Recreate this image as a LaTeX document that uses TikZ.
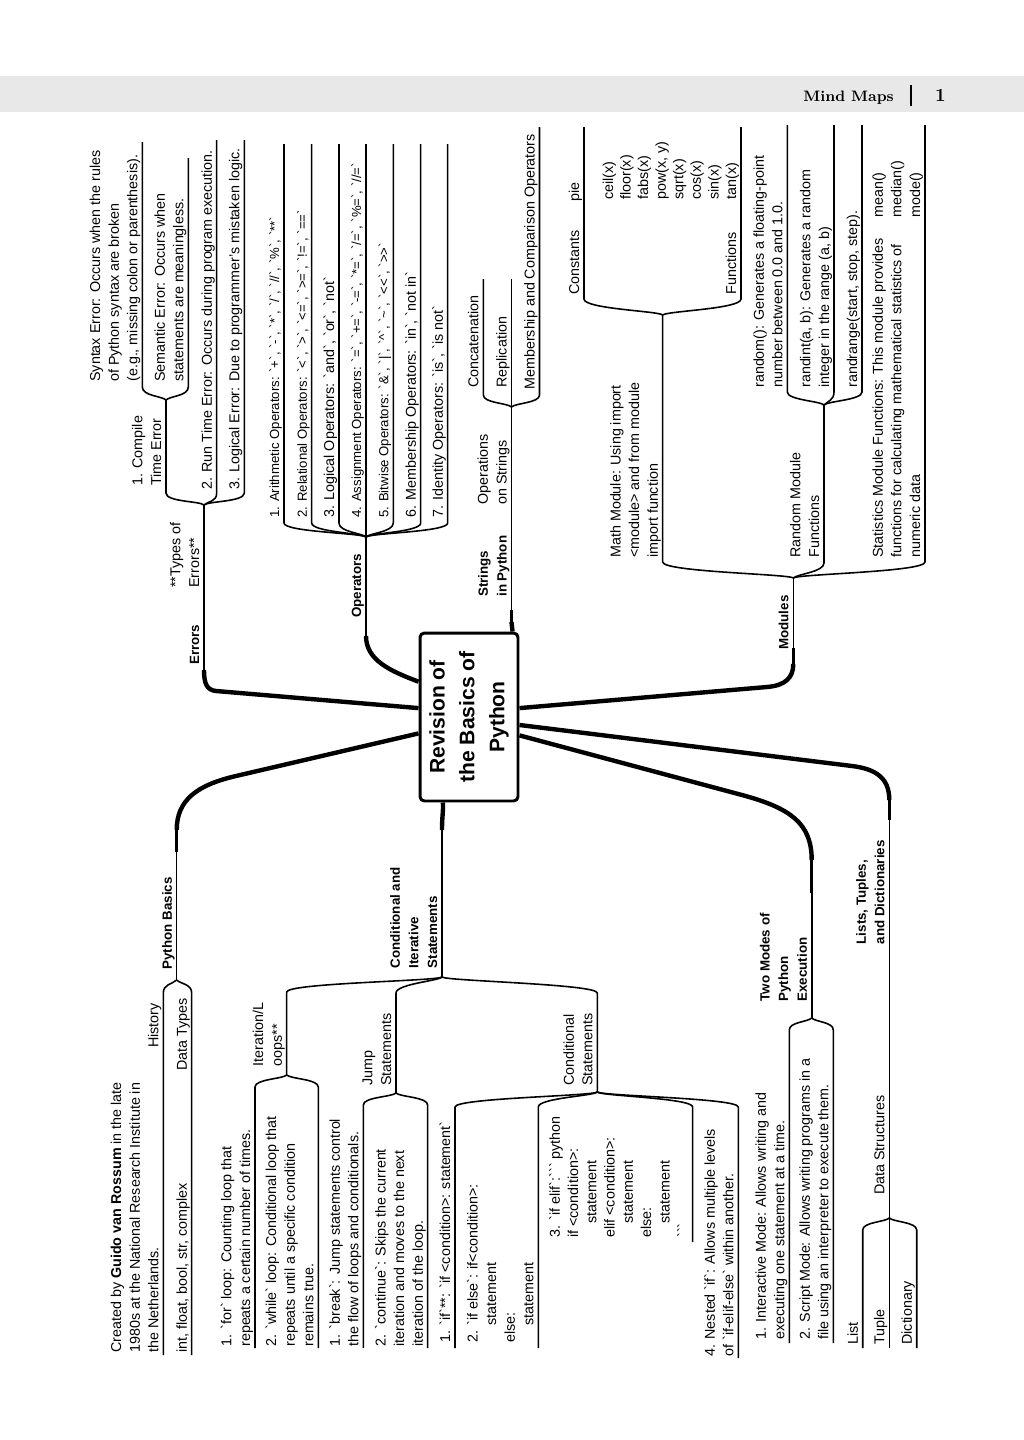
\documentclass[tikz,border=0pt]{standalone}
\usepackage{fontspec}
\newfontfamily\mapfont{Liberation Sans}[Ligatures=TeXOff]
\newcommand{\leaffont}{\mapfont\fontsize{8.15}{10.6}\selectfont}
\newcommand{\opfont}{\mapfont\fontsize{7.5}{10.6}\selectfont}
\newcommand{\topicfont}{\mapfont\bfseries\fontsize{7.6}{10.6}\selectfont}
\newcommand{\rootfont}{\mapfont\bfseries\fontsize{12}{17}\selectfont}
\tikzset {
    branch/.style={line width=0.9pt},
    taper/.style={line width=1.5pt},
    trunk/.style={line width=2.5pt},
    leaf/.style={rotate=90, font=\leaffont, align=left, inner xsep=0pt, inner ysep=0.6pt, text depth=2pt},
    topic/.style={leaf, font=\topicfont},
    rside/.style={anchor=south west},
    lside/.style={anchor=south east},
    mainbox/.style={draw, rotate=90, line width=1.7pt, rounded corners=2.5pt, minimum width=3.36cm, minimum height=1.96cm, align=center, font=\rootfont}
}
\begin{document}
\begin{tikzpicture}[x=0.02cm, y=-0.02cm]
\useasboundingbox (0,0) rectangle (1024,1440);
\fill[black!9] (0,76) rectangle (1024,112);
\node[anchor=base east, font=\bfseries\fontsize{8.6}{10}\selectfont] (hdr) at (900,101) {Mind Maps};
\coordinate (bar-t) at (910.7,85); \coordinate (bar-b) at (910.7,106);
\draw[line width=1.2pt] (bar-t) -- (bar-b);
\node[anchor=base west, font=\bfseries\fontsize{10.5}{12}\selectfont] (pgno) at (929,101) {1};

\node[mainbox] (root) at (469,717) {Revision of\\the Basics of\\Python};

\coordinate (err-k) at (204,670);
\coordinate (te-f) at (204,505);
\draw[trunk] (root.80) -- (216,691) .. controls (207,690) and (204,684) .. (err-k);
\draw[taper] (err-k) -- (204,652);
\draw[branch] (err-k) -- (te-f);
\node[topic, rside] (errors) at (204,665) {Errors};
\node[leaf, rside] (typeserr) at (204,588) {**Types of\\Errors**};
\coordinate (cmp-s) at (166,493); \coordinate (cmp-f) at (166,400);
\draw[branch] (te-f) .. controls +(-4,-4) and +(0,9) .. (cmp-s) -- (cmp-f);
\node[leaf, rside] (compile) at (166,486) {1. Compile\\Time Error};
\coordinate (syn-s) at (142.3,387); \coordinate (syn-e) at (142.3,142);
\draw[branch] (cmp-f) .. controls +(-4,-4) and +(0,9) .. (syn-s) -- (syn-e);
\node[leaf, rside] (syntax) at (142.3,382) {Syntax Error: Occurs when the rules\\of Python syntax are broken\\(e.g., missing colon or parenthesis).};
\coordinate (sem-s) at (188.3,387); \coordinate (sem-e) at (188.3,158);
\draw[branch] (cmp-f) .. controls +(4,-4) and +(0,9) .. (sem-s) -- (sem-e);
\node[leaf, rside] (semantic) at (188.3,382) {Semantic Error: Occurs when\\statements are meaningless.};
\coordinate (run-s) at (216.7,493); \coordinate (run-e) at (216.7,140);
\draw[branch] (te-f) .. controls +(4,-4) and +(0,9) .. (run-s) -- (run-e);
\node[leaf, rside] (runtime) at (216.7,490) {2. Run Time Error: Occurs during program execution.};
\coordinate (lgc-s) at (244.3,493); \coordinate (lgc-e) at (244.3,140);
\draw[branch] (te-f) .. controls +(4,-4) and +(0,9) .. (lgc-s) -- (lgc-e);
\node[leaf, rside] (logical) at (244.3,490) {3. Logical Error: Due to programmer’s mistaken logic.};

\coordinate (op-k) at (366,636);
\coordinate (op-f) at (366,537);
\draw[trunk] (root.55) .. controls (390,671) and (366,660) .. (op-k);
\draw[taper] (op-k) -- (366,620);
\draw[branch] (op-k) -- (op-f);
\node[topic, rside] (operators) at (366,618) {Operators};
\coordinate (ari-s) at (284,523); \coordinate (ari-e) at (284,144);
\draw[branch] (op-f) .. controls +(-4,-4) and +(0,9) .. (ari-s) -- (ari-e);
\node[leaf, rside, font=\opfont] (arith) at (284,518) {1. Arithmetic Operators: `+`, `-`, `*`, `/`, `//`, `\%`, `**`};
\coordinate (rel-s) at (311.7,523); \coordinate (rel-e) at (311.7,144);
\draw[branch] (op-f) .. controls +(-4,-4) and +(0,9) .. (rel-s) -- (rel-e);
\node[leaf, rside, font=\opfont] (relat) at (311.7,518) {2. Relational Operators: `<`, `>`, `<=`, `>=`, `!=`, `==`};
\coordinate (log-s) at (339,523); \coordinate (log-e) at (339,144);
\draw[branch] (op-f) .. controls +(-4,-4) and +(0,9) .. (log-s) -- (log-e);
\node[leaf, rside] (logic) at (339,518) {3. Logical Operators: `and`, `or`, `not`};
\coordinate (asg-e) at (366,144);
\draw[branch] (op-f) -- (asg-e);
\node[leaf, rside, font=\opfont] (assign) at (366,518) {4. Assignment Operators: `=`, `+=`, `-=`, `*=`, `/=`, `\%=`, `//=`};
\coordinate (bit-s) at (393.3,523); \coordinate (bit-e) at (393.3,144);
\draw[branch] (op-f) .. controls +(4,-4) and +(0,9) .. (bit-s) -- (bit-e);
\node[leaf, rside, font=\opfont] (bitwise) at (393.3,518) {5. Bitwise Operators: `\&`, `|`, `\textasciicircum`, `\textasciitilde`, `<<`, `>>`};
\coordinate (mem-s) at (420.7,523); \coordinate (mem-e) at (420.7,144);
\draw[branch] (op-f) .. controls +(4,-4) and +(0,9) .. (mem-s) -- (mem-e);
\node[leaf, rside] (member) at (420.7,518) {6. Membership Operators: `in`, `not in`};
\coordinate (ide-s) at (447.7,523); \coordinate (ide-e) at (447.7,144);
\draw[branch] (op-f) .. controls +(4,-4) and +(0,9) .. (ide-s) -- (ide-e);
\node[leaf, rside] (ident) at (447.7,518) {7. Identity Operators: `is`, `is not`};

\coordinate (str-k) at (511.5,622);
\coordinate (st-f) at (511.5,407);
\draw[trunk] (root.-27) -- (str-k);
\draw[taper] (str-k) -- (511.5,610);
\draw[branch] (str-k) -- (st-f);
\node[topic, rside] (strings) at (511.5,597) {Strings\\in Python};
\node[leaf, rside] (opstr) at (511.5,505) {Operations\\on Strings};
\coordinate (cat-s) at (483.3,395); \coordinate (cat-e) at (483.3,279);
\draw[branch] (st-f) .. controls +(-4,-4) and +(0,8) .. (cat-s) -- (cat-e);
\node[leaf, rside] (concat) at (483.3,388) {Concatenation};
\coordinate (rep-e) at (511.5,279);
\draw[branch] (st-f) -- (rep-e);
\node[leaf, rside] (replic) at (511.5,388) {Replication};
\coordinate (mcm-s) at (539.5,395); \coordinate (mcm-e) at (539.5,127);
\draw[branch] (st-f) .. controls +(4,-4) and +(0,8) .. (mcm-s) -- (mcm-e);
\node[leaf, rside] (memcomp) at (539.5,390) {Membership and Comparison Operators};

\coordinate (mod-k) at (793.3,664);
\coordinate (mod-f) at (793.3,578);
\draw[trunk] (root.-80) -- (767,687) .. controls (785,685.5) and (793.3,678) .. (mod-k);
\draw[taper] (mod-k) -- (793.3,648);
\draw[branch] (mod-k) -- (mod-f);
\node[topic, rside] (modules) at (793.3,650) {Modules};
\coordinate (mth-s) at (662.7,562); \coordinate (mth-f) at (662.7,315);
\draw[branch] (mod-f) .. controls +(-4,-4) and +(0,10) .. (mth-s) -- (mth-f);
\node[leaf, rside] (mathmod) at (662.7,558) {Math Module: Using import\\<module> and from module\\import function};
\coordinate (cst-s) at (584,299); \coordinate (cst-e) at (584,127);
\draw[branch] (mth-f) .. controls +(-4,-4) and +(0,10) .. (cst-s) -- (cst-e);
\node[leaf, rside] (consts) at (584,295) {Constants};
\node[leaf, rside] (pie) at (584,202) {pie};
\coordinate (fnc-s) at (741,299); \coordinate (fnc-e) at (741,127);
\draw[branch] (mth-f) .. controls +(4,-4) and +(0,10) .. (fnc-s) -- (fnc-e);
\node[leaf, rside] (funcs) at (741,295) {Functions};
\node[leaf, rside, font=\mapfont\fontsize{8.15}{10}\selectfont] (funclist) at (741,200) {ceil(x)\\floor(x)\\fabs(x)\\pow(x, y)\\sqrt(x)\\cos(x)\\sin(x)\\tan(x)};
\coordinate (rnd-s) at (824,563); \coordinate (rnd-f) at (824,405);
\draw[branch] (mod-f) .. controls +(4,-4) and +(0,9) .. (rnd-s) -- (rnd-f);
\node[leaf, rside] (randmod) at (824,558) {Random Module\\Functions};
\coordinate (rf-s) at (787.3,392); \coordinate (rf-e) at (787.3,125);
\draw[branch] (rnd-f) .. controls +(-4,-4) and +(0,8) .. (rf-s) -- (rf-e);
\node[leaf, rside] (randf) at (787.3,388) {random(): Generates a floating-point\\number between 0.0 and 1.0.};
\coordinate (ri-s) at (834,392); \coordinate (ri-e) at (834,125);
\draw[branch] (rnd-f) .. controls +(4,-4) and +(0,8) .. (ri-s) -- (ri-e);
\node[leaf, rside] (randint) at (834,388) {randint(a, b): Generates a random\\integer in the range (a, b)};
\coordinate (rr-s) at (862,392); \coordinate (rr-e) at (862,125);
\draw[branch] (rnd-f) .. controls +(4,-4) and +(0,8) .. (rr-s) -- (rr-e);
\node[leaf, rside] (randrange) at (862,388) {randrange(start, stop, step).};
\coordinate (sta-s) at (925,562); \coordinate (sta-e) at (925,125);
\draw[branch] (mod-f) .. controls +(4,-4) and +(0,10) .. (sta-s) -- (sta-e);
\node[leaf, rside] (statmod) at (925,558) {Statistics Module Functions: This module provides\\functions for calculating mathematical statistics of\\numeric data};
\node[leaf, rside] (statfn) at (925,218) {mean()\\median()\\mode()};

\coordinate (pb-k) at (176.7,830);
\coordinate (pb-f) at (176.7,980);
\draw[trunk] (root.108) -- (236,776) .. controls (197,785) and (176.7,800) .. (pb-k);
\draw[taper] (pb-k) -- (176.7,852);
\draw[branch] (pb-k) -- (pb-f);
\node[topic, lside] (basics) at (176.7,877) {Python Basics};
\coordinate (his-s) at (163.3,993); \coordinate (his-e) at (163.3,1355);
\draw[branch] (pb-f) .. controls +(-4,4) and +(0,-9) .. (his-s) -- (his-e);
\node[leaf, lside] (history) at (163.3,1003) {History};
\node[leaf, rside] (guido) at (163.3,1353) {Created by \textbf{Guido van Rossum} in the late\\1980s at the National Research Institute in\\the Netherlands.};
\coordinate (dty-s) at (191.7,993); \coordinate (dty-e) at (191.7,1355);
\draw[branch] (pb-f) .. controls +(4,4) and +(0,-9) .. (dty-s) -- (dty-e);
\node[leaf, lside] (dtypes) at (191.7,998) {Data Types};
\node[leaf, rside] (dtlist) at (191.7,1353) {int, float, bool, str, complex};

\coordinate (cis-k) at (442,830);
\coordinate (cis-f) at (442,977);
\draw[trunk] (root.163) .. controls (443.5,812) and (442,815) .. (cis-k);
\draw[taper] (cis-k) -- (442,848);
\draw[branch] (cis-k) -- (cis-f);
\node[topic, lside] (control) at (442,867) {Conditional and\\Iterative\\Statements};
\coordinate (itl-s) at (286.7,992); \coordinate (itl-f) at (286.7,1075);
\draw[branch] (cis-f) .. controls +(-4,4) and +(0,-9) .. (itl-s) -- (itl-f);
\node[leaf, lside] (iterloops) at (286.7,1002) {Iteration/L\\oops**};
\coordinate (for-s) at (255,1087); \coordinate (for-e) at (255,1348);
\draw[branch] (itl-f) .. controls +(-4,4) and +(0,-8) .. (for-s) -- (for-e);
\node[leaf, rside] (forloop) at (255,1347) {1. `for` loop: Counting loop that\\repeats a certain number of times.};
\coordinate (whl-s) at (318.3,1087); \coordinate (whl-e) at (318.3,1348);
\draw[branch] (itl-f) .. controls +(4,4) and +(0,-8) .. (whl-s) -- (whl-e);
\node[leaf, rside] (whileloop) at (318.3,1347) {2. `while` loop: Conditional loop that\\repeats until a specific condition\\remains true.};
\coordinate (jmp-s) at (396,993); \coordinate (jmp-f) at (396,1093);
\draw[branch] (cis-f) .. controls +(-4,4) and +(0,-9) .. (jmp-s) -- (jmp-f);
\node[leaf, lside] (jump) at (396,1013) {Jump\\Statements};
\coordinate (brk-s) at (363.3,1105); \coordinate (brk-e) at (363.3,1348);
\draw[branch] (jmp-f) .. controls +(-4,4) and +(0,-8) .. (brk-s) -- (brk-e);
\node[leaf, rside] (breakst) at (363.3,1347) {1. `break`: Jump statements control\\the flow of loops and conditionals.};
\coordinate (cnt-s) at (427.7,1105); \coordinate (cnt-e) at (427.7,1348);
\draw[branch] (jmp-f) .. controls +(4,4) and +(0,-8) .. (cnt-s) -- (cnt-e);
\node[leaf, rside] (contst) at (427.7,1347) {2. `continue`: Skips the current\\iteration and moves to the next\\iteration of the loop.};
\coordinate (cnd-s) at (597.3,993); \coordinate (cnd-f) at (597.3,1092);
\draw[branch] (cis-f) .. controls +(4,4) and +(0,-9) .. (cnd-s) -- (cnd-f);
\node[leaf, lside] (condst) at (597.3,1013) {Conditional\\Statements};
\coordinate (if1-s) at (455,1107); \coordinate (if1-e) at (455,1348);
\draw[branch] (cnd-f) .. controls +(-4,4) and +(0,-9) .. (if1-s) -- (if1-e);
\node[leaf, rside] (ifst) at (455,1343) {1. `if`**: `if <condition>: statement`};
\coordinate (if2-s) at (538.3,1107); \coordinate (if2-e) at (538.3,1348);
\draw[branch] (cnd-f) .. controls +(-4,4) and +(0,-9) .. (if2-s) -- (if2-e);
\node[leaf, rside] (ifelse) at (538.3,1343) {2. `if else`: if<condition>:\\\hspace*{1.2em}statement\\else:\\\hspace*{1.2em}statement};
\coordinate (if3-s) at (692.7,1107); \coordinate (if3-e) at (692.7,1242);
\draw[branch] (cnd-f) .. controls +(4,4) and +(0,-9) .. (if3-s) -- (if3-e);
\node[leaf, rside, font=\mapfont\fontsize{8.15}{10.4}\selectfont] (ifelif) at (692.7,1238) {3. `if elif`:``` python\\if <condition>:\\\hspace*{1em}statement\\elif <condition>:\\\hspace*{1em}statement\\else:\\\hspace*{1em}statement\\```};
\coordinate (if4-s) at (738.3,1107); \coordinate (if4-e) at (738.3,1358);
\draw[branch] (cnd-f) .. controls +(4,4) and +(0,-9) .. (if4-s) -- (if4-e);
\node[leaf, rside] (nestedif) at (738.3,1357) {4. Nested `if`: Allows multiple levels\\of `if-elif-else` within another.};

\coordinate (tm-k) at (811.7,860);
\coordinate (tm-f) at (811.7,1018);
\draw[trunk] (root.-110) -- (742,795) .. controls (790,808) and (811.7,823) .. (tm-k);
\draw[taper] (tm-k) -- (811.7,893);
\draw[branch] (tm-k) -- (tm-f);
\node[topic, lside] (twomodes) at (811.7,913) {Two Modes of\\Python\\Execution};
\coordinate (itm-s) at (789.3,1030); \coordinate (itm-e) at (789.3,1343);
\draw[branch] (tm-f) .. controls +(-4,4) and +(0,-8) .. (itm-s) -- (itm-e);
\node[leaf, rside] (interactive) at (789.3,1340) {1. Interactive Mode: Allows writing and\\executing one statement at a time.};
\coordinate (scm-s) at (833.3,1030); \coordinate (scm-e) at (833.3,1343);
\draw[branch] (tm-f) .. controls +(4,4) and +(0,-8) .. (scm-s) -- (scm-e);
\node[leaf, rside] (script) at (833.3,1340) {2. Script Mode: Allows writing programs in a\\file using an interpreter to execute them.};

\coordinate (lt-k) at (889.3,800);
\coordinate (ds-f) at (889.3,1218);
\draw[trunk] (root.-99) -- (852,766) .. controls (876,769) and (889.3,778) .. (lt-k);
\draw[taper] (lt-k) -- (889.3,820);
\draw[branch] (lt-k) -- (ds-f);
\node[topic, lside] (lists) at (889.3,840) {Lists, Tuples,\\and Dictionaries};
\node[leaf, lside] (datastr) at (889.3,1095) {Data Structures};
\coordinate (lst-s) at (862.7,1230); \coordinate (lst-e) at (862.7,1348);
\draw[branch] (ds-f) .. controls +(-4,4) and +(0,-8) .. (lst-s) -- (lst-e);
\node[leaf, rside] (list) at (862.7,1345) {List};
\coordinate (tpl-e) at (889.3,1348);
\draw[branch] (ds-f) -- (tpl-e);
\node[leaf, rside] (tuple) at (889.3,1345) {Tuple};
\coordinate (dct-s) at (916.7,1230); \coordinate (dct-e) at (916.7,1348);
\draw[branch] (ds-f) .. controls +(4,4) and +(0,-8) .. (dct-s) -- (dct-e);
\node[leaf, rside] (dict) at (916.7,1345) {Dictionary};
\end{tikzpicture}
\end{document}
